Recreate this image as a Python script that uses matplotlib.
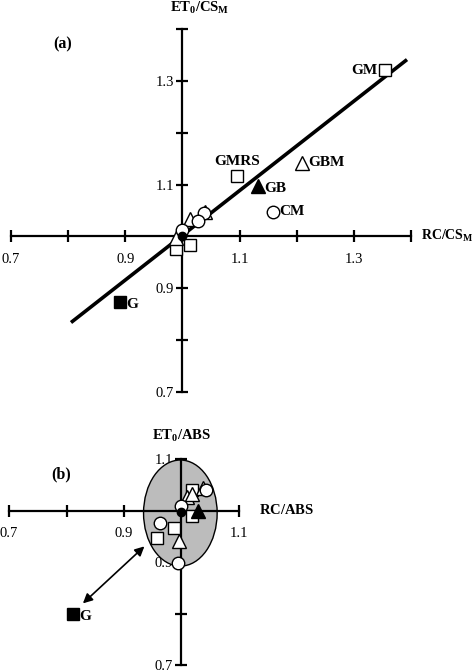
import matplotlib
matplotlib.use("Agg")
import matplotlib.pyplot as plt
from matplotlib.patches import Ellipse

plt.rcParams['font.family'] = ['Liberation Serif', 'DejaVu Serif']
plt.rcParams['mathtext.fontset'] = 'custom'
plt.rcParams['mathtext.rm'] = 'Liberation Serif'
plt.rcParams['mathtext.bf'] = 'Liberation Serif:bold'
plt.rcParams['mathtext.it'] = 'Liberation Serif:italic'

# ---------------- Data: panel (a) ----------------
a_open_sq_x = [1.355, 1.096, 0.988, 1.013]
a_open_sq_y = [1.320, 1.116, 0.976, 0.983]
a_open_tri_x = [1.209, 1.014, 1.040, 0.988]
a_open_tri_y = [1.142, 1.034, 1.048, 0.997]
a_open_circ_x = [1.159, 1.037, 1.028, 1.000]
a_open_circ_y = [1.048, 1.046, 1.029, 1.013]
a_fill_tri_x = [1.132]
a_fill_tri_y = [1.097]
a_fill_circ_x = [1.000]
a_fill_circ_y = [1.000]
a_fill_sq_x = [0.891]
a_fill_sq_y = [0.874]
a_line_x = [0.805, 1.393]
a_line_y = [0.834, 1.341]
a_labels = ['GM', 'GMRS', 'GBM', 'GB', 'CM', 'G']
a_label_x = [1.355, 1.096, 1.209, 1.132, 1.159, 0.891]
a_label_y = [1.320, 1.116, 1.142, 1.097, 1.048, 0.874]

# ---------------- Data: panel (b) ----------------
b_open_sq_x = [1.019, 1.018, 0.987, 0.957]
b_open_sq_y = [0.989, 1.040, 0.966, 0.947]
b_open_tri_x = [1.009, 1.019, 1.038, 0.996]
b_open_tri_y = [1.027, 1.033, 1.043, 0.941]
b_open_circ_x = [1.042, 1.000, 0.962, 0.994]
b_open_circ_y = [1.039, 1.008, 0.975, 0.898]
b_fill_tri_x = [1.029]
b_fill_tri_y = [0.999]
b_fill_circ_x = [1.000]
b_fill_circ_y = [0.997]
b_fill_sq_x = [0.811]
b_fill_sq_y = [0.799]
b_ellipse = (0.998, 0.995, 0.128, 0.206)  # cx, cy, width, height
b_arrow = (0.939, 0.934, 0.825, 0.816)

x_ticks_a = [0.7, 0.8, 0.9, 1.0, 1.1, 1.2, 1.3, 1.4]
x_ticklabels_a = ['0.7', '', '0.9', '', '1.1', '', '1.3', '']
y_ticks_a = [0.7, 0.8, 0.9, 1.0, 1.1, 1.2, 1.3, 1.4]
y_ticklabels_a = ['0.7', '', '0.9', '', '1.1', '', '1.3', '']
x_ticks_b = [0.7, 0.8, 0.9, 1.0, 1.1]
x_ticklabels_b = ['0.7', '', '0.9', '', '1.1']
y_ticks_b = [0.7, 0.8, 0.9, 1.0, 1.1]
y_ticklabels_b = ['0.7', '', '0.9', '', '1.1']

W, H = 473, 672
fig = plt.figure(figsize=(W / 100, H / 100), dpi=100)


def px_axes(x0, x1, ytop, ybot):
    return fig.add_axes([x0 / W, (H - ybot) / H, (x1 - x0) / W, (ybot - ytop) / H])


def style_axes(ax, xlim, ylim, xt, xtl, yt, ytl):
    ax.set_xlim(*xlim)
    ax.set_ylim(*ylim)
    ax.patch.set_visible(False)
    for s in ['top', 'right']:
        ax.spines[s].set_visible(False)
    ax.spines['left'].set_position(('data', 1.0))
    ax.spines['bottom'].set_position(('data', 1.0))
    for s in ['left', 'bottom']:
        ax.spines[s].set_linewidth(1.6)
    ax.set_xticks(xt)
    ax.set_xticklabels(xtl)
    ax.set_yticks(yt)
    ax.set_yticklabels(ytl)
    ax.tick_params(direction='inout', length=8, width=1.6, labelsize=10.5)
    ax.tick_params(axis='x', pad=8)
    ax.tick_params(axis='y', pad=2)


mk = dict(linestyle='none', markeredgecolor='black', markeredgewidth=1.0, zorder=4, clip_on=False)


def plot_points(ax, d, ms=9):
    ax.plot(d['osx'], d['osy'], marker='s', markerfacecolor='white', markersize=ms, **mk)
    ax.plot(d['otx'], d['oty'], marker='^', markerfacecolor='white', markersize=ms + 0.5, **mk)
    ax.plot(d['ocx'], d['ocy'], marker='o', markerfacecolor='white', markersize=ms, **mk)
    ax.plot(d['ftx'], d['fty'], marker='^', markerfacecolor='black', markersize=ms + 0.5, **mk)
    ax.plot(d['fcx'], d['fcy'], marker='o', markerfacecolor='black', markersize=ms - 3, **mk)
    ax.plot(d['fsx'], d['fsy'], marker='s', markerfacecolor='black', markersize=ms, **mk)


# ---------------- Panel (a) ----------------
axa = px_axes(11, 411, 29, 392)
style_axes(axa, (0.7, 1.4), (0.7, 1.4), x_ticks_a, x_ticklabels_a, y_ticks_a, y_ticklabels_a)
axa.plot(a_line_x, a_line_y, color='black', lw=2.6, zorder=3, solid_capstyle='butt')
plot_points(axa, dict(osx=a_open_sq_x, osy=a_open_sq_y, otx=a_open_tri_x, oty=a_open_tri_y,
                      ocx=a_open_circ_x, ocy=a_open_circ_y, ftx=a_fill_tri_x, fty=a_fill_tri_y,
                      fcx=a_fill_circ_x, fcy=a_fill_circ_y, fsx=a_fill_sq_x, fsy=a_fill_sq_y))

lbl_kw = dict(fontsize=11, fontweight='bold', zorder=5)
offs = [(-0.013, 0.0, 'right', 'center'),
        (0.0, 0.016, 'center', 'bottom'),
        (0.011, 0.0, 'left', 'center'),
        (0.011, -0.004, 'left', 'center'),
        (0.011, 0.0, 'left', 'center'),
        (0.011, -0.005, 'left', 'center')]
for lab, x, y, (dx, dy, ha, va) in zip(a_labels, a_label_x, a_label_y, offs):
    axa.text(x + dx, y + dy, lab, ha=ha, va=va, **lbl_kw)

axa.text(1.0 + 0.03, 1.4 + 0.04, r'$\mathbf{ET_0/CS_M}$', ha='center', va='center', fontsize=10.5)
axa.text(1.418, 1.0, r'$\mathbf{RC/CS_M}$', ha='left', va='center', fontsize=10)
axa.text(0.79, 1.37, '(a)', ha='center', va='center', fontsize=11.5, fontweight='bold')

# ---------------- Panel (b) ----------------
axb = px_axes(9, 239, 459, 665)
style_axes(axb, (0.7, 1.1), (0.7, 1.1), x_ticks_b, x_ticklabels_b, y_ticks_b, y_ticklabels_b)
cx, cy, ew, eh = b_ellipse
axb.add_patch(Ellipse((cx, cy), ew, eh, facecolor='#bcbcbc', edgecolor='black', lw=1.0, zorder=2))
x0, y0, x1, y1 = b_arrow
axb.annotate('', xy=(x1, y1), xytext=(x0, y0),
             arrowprops=dict(arrowstyle='<|-|>', color='black', lw=1.2, mutation_scale=14),
             zorder=3)
plot_points(axb, dict(osx=b_open_sq_x, osy=b_open_sq_y, otx=b_open_tri_x, oty=b_open_tri_y,
                      ocx=b_open_circ_x, ocy=b_open_circ_y, ftx=b_fill_tri_x, fty=b_fill_tri_y,
                      fcx=b_fill_circ_x, fcy=b_fill_circ_y, fsx=b_fill_sq_x, fsy=b_fill_sq_y))
axb.text(b_fill_sq_x[0] + 0.011, b_fill_sq_y[0] - 0.005, 'G', ha='left', va='center', **lbl_kw)
axb.text(1.0, 1.1 + 0.045, r'$\mathbf{ET_0/ABS}$', ha='center', va='center', fontsize=10.5)
axb.text(1.135, 1.0, r'$\mathbf{RC/ABS}$', ha='left', va='center', fontsize=10.5)
axb.text(0.79, 1.071, '(b)', ha='center', va='center', fontsize=11.5, fontweight='bold')

fig.savefig('out.png', dpi=100)
